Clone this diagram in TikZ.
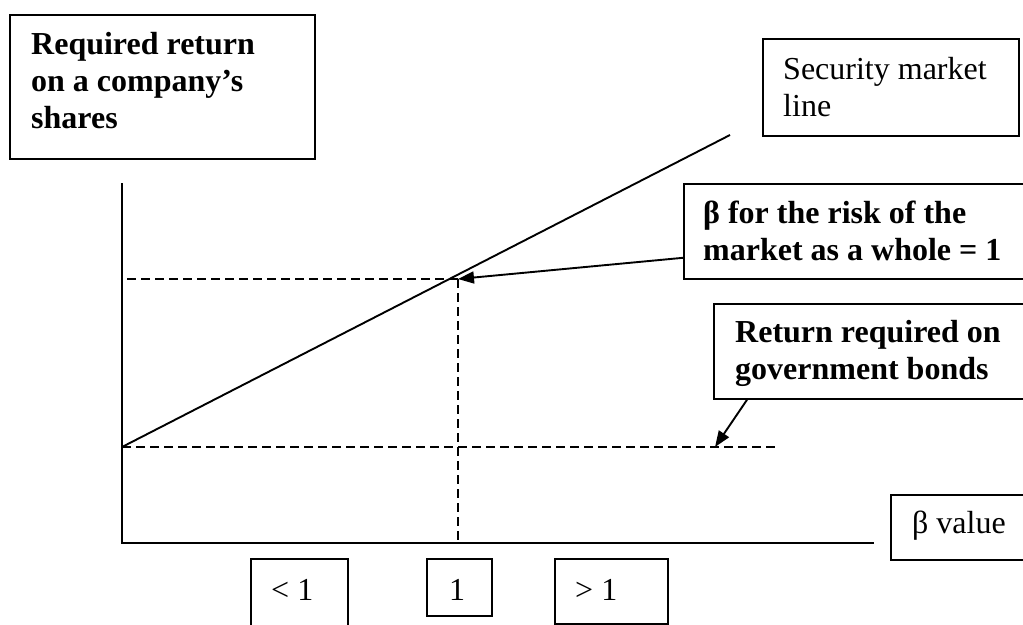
\documentclass[tikz,border=0pt]{standalone}
\usepackage{fontspec}
\setmainfont{Liberation Serif}
\usetikzlibrary{arrows.meta}
\begin{document}
\begin{tikzpicture}[x=1pt,y=-1pt,
  frame/.style={draw, line width=1.8pt, inner sep=0pt, anchor=north west},
  label/.style={anchor=base west, inner sep=0pt, font=\fontsize{32}{37}\selectfont},
  boldlabel/.style={anchor=base west, inner sep=0pt, font=\fontsize{32}{37}\selectfont\bfseries},
  axis/.style={line width=1.9pt},
  guide/.style={line width=1.9pt, dash pattern=on 9pt off 5pt},
  pointer/.style={line width=1.9pt, -{Triangle[length=16pt,width=12pt]}}]
\useasboundingbox (0,0) rectangle (1023,624);
\clip (0,0) rectangle (1023,624);

% text boxes
\node[frame, minimum width=305pt, minimum height=144pt] (reqbox) at (9,14) {};
\node[boldlabel] (reqtxt) at (31,54) {\parbox[t]{280pt}{Required return\\on a company’s\\shares}};

\node[frame, minimum width=256pt, minimum height=97pt] (smlbox) at (762,38) {};
\node[label] (smltxt) at (783,79) {\parbox[t]{230pt}{Security market\\line}};

\node[frame, minimum width=360pt, minimum height=95pt] (mktbox) at (683,183) {};
\node[boldlabel] (mkttxt) at (703,223) {\parbox[t]{330pt}{β for the risk of the\\market as a whole = 1}};

\node[frame, minimum width=330pt, minimum height=95pt] (retbox) at (713,303) {};
\node[boldlabel] (rettxt) at (735,342) {\parbox[t]{300pt}{Return required on\\government bonds}};

\node[frame, minimum width=150pt, minimum height=65pt] (betabox) at (890,494) {};
\node[label] (betatxt) at (912,533) {β value};

\node[frame, minimum width=97pt, minimum height=80pt] (lowbox) at (250,558) {};
\node[label] (lowtxt) at (271,600) {< 1};

\node[frame, minimum width=65pt, minimum height=57pt] (onebox) at (426,558) {};
\node[label] (onetxt) at (449,600) {1};

\node[frame, minimum width=113pt, minimum height=65pt] (highbox) at (554,558) {};
\node[label] (hightxt) at (575,600) {> 1};

% chart points
\coordinate (ytop) at (122,183);
\coordinate (origin) at (122,543);
\coordinate (xend) at (874,543);
\coordinate (rf) at (122,447);
\coordinate (smlend) at (730,135);
\coordinate (mkt) at (458,279);
\coordinate (mktlevel) at (127,279);
\coordinate (mktfoot) at (458,543);
\coordinate (rfend) at (775,447);
\coordinate (rfpoint) at (715,447);

% axes and security market line
\draw[axis] (ytop) -- (origin) -- (xend);
\draw[axis] (rf) -- (smlend);

% guide lines
\draw[guide] (mktlevel) -- (mkt);
\draw[guide] (mkt) -- (mktfoot);
\draw[guide] (rf) -- (rfend);

% pointers
\draw[pointer] ([yshift=22pt]mktbox.south west) -- (mkt);
\draw[pointer] ([xshift=34pt]retbox.south west) -- (rfpoint);
\end{tikzpicture}
\end{document}
